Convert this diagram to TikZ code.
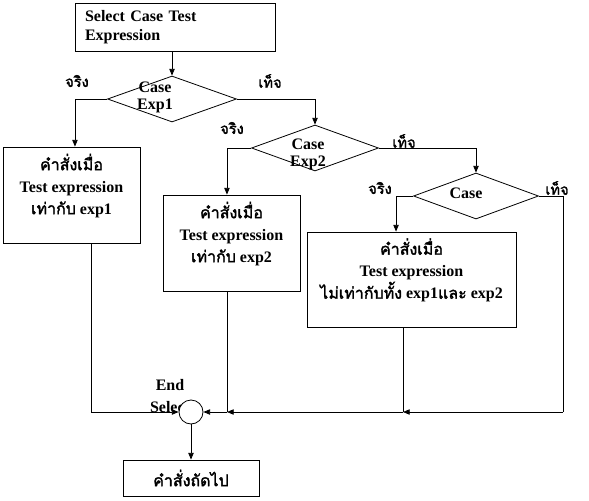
\documentclass[tikz,border=0pt]{standalone}
\usepackage{fontspec}
\setmainfont{Liberation Serif}
\newfontfamily\thaifont[Script=Thai,AutoFakeBold=2]{Loma}
\usepackage{tikz}
\usetikzlibrary{shapes.geometric,arrows.meta}
\newcommand{\thai}[1]{{\thaifont #1}}

\tikzset{
  stmt/.style={draw, rectangle, align=center, inner sep=0pt},
  test/.style={draw, diamond, inner sep=0pt},
  casetext/.style={align=center, inner sep=0pt, font=\fontsize{12}{12.75}\selectfont\bfseries},
  branch/.style={inner sep=0pt, font=\fontsize{11}{12}\selectfont\bfseries},
  flow/.style={->},
}

\begin{document}
\begin{tikzpicture}[x=0.75pt, y={(0pt,-0.75pt)}, line width=0.6pt,
    font=\fontsize{12}{16.5}\selectfont\bfseries,
    >={Triangle[length=5pt,width=4pt]}]
  \useasboundingbox (0,0) rectangle (589,500);

  % first statement and the three tests
  \node[stmt, minimum width=150pt, minimum height=36pt, text width=135pt,
        align=left, font=\fontsize{12}{14.25}\selectfont\bfseries]
        (start) at (175,27) {Select Case Test\\Expression};
  \node[test, minimum width=96.75pt, minimum height=34.5pt] (d1) at (172,99) {};
  \node[casetext] (d1t) at (155,97.5) {Case\\Exp1};
  \node[test, minimum width=95.25pt, minimum height=34.5pt] (d2) at (315,148) {};
  \node[casetext] (d2t) at (308,154) {Case\\Exp2};
  \node[test, minimum width=93.75pt, minimum height=34.5pt] (d3) at (476,196) {};
  \node[casetext] (d3t) at (466,193) {Case};

  % true / false labels
  \node[branch] (y1) at (77,81) {\thai{จริง}};
  \node[branch] (n1) at (270,81) {\thai{เท็จ}};
  \node[branch] (y2) at (232,128) {\thai{จริง}};
  \node[branch] (n2) at (404,141) {\thai{เท็จ}};
  \node[branch] (y3) at (380,188) {\thai{จริง}};
  \node[branch] (n3) at (557,188) {\thai{เท็จ}};

  % statement boxes
  \node[stmt, minimum width=102.75pt, minimum height=72pt] (b1) at (71.5,195)
       {\thai{คำสั่งเมื่อ}\\Test expression\\\thai{เท่ากับ} exp1\\~};
  \node[stmt, minimum width=102.75pt, minimum height=72pt] (b2) at (231.5,243)
       {\thai{คำสั่งเมื่อ}\\Test expression\\\thai{เท่ากับ} exp2\\~};
  \node[stmt, minimum width=156.75pt, minimum height=71.25pt] (b3) at (411.5,279.5)
       {\thai{คำสั่งเมื่อ}\\Test expression\\\thai{ไม่เท่ากับทั้ง} exp1\thai{และ} exp2\\~};
  \node[stmt, minimum width=102pt, minimum height=27pt] (next) at (191,478)
       {\thai{คำสั่งถัดไป}};

  % end select
  \node[casetext, font=\fontsize{12}{16}\selectfont\bfseries] (endt) at (170,396) {End\\Select};
  \node[draw, circle, fill=white, minimum size=18pt, inner sep=0pt] (endc) at (191,412) {};

  \coordinate (j1) at (91,412);
  \coordinate (j2) at (227,412);
  \coordinate (j3) at (403,412);
  \coordinate (j4) at (563,412);

  % connectors
  \draw[flow] (start.south -| d1.north) -- (d1.north);
  \draw[flow] (d1.west) -| ([xshift=2.6pt]b1.north);
  \draw[flow] (d1.east) -| (d2.north);
  \draw[flow] (d2.west) -| ([xshift=-3.4pt]b2.north);
  \draw[flow] (d2.east) -| (d3.north);
  \draw[flow] (d3.west) -| ([xshift=-11.6pt]b3.north);
  \draw (d3.east) -| (j4);

  \draw (b1.south -| j1) -- (j1);
  \draw (b2.south -| j2) -- (j2);
  \draw (b3.south -| j3) -- (j3);
  \draw[flow] (j1) -- (endc.west);
  \draw[flow] (j4) -- (j3);
  \draw[flow] (j3) -- (j2);
  \draw[flow] (j2) -- (endc.east);
  \draw[flow] (endc.south) -- (endc.south |- next.north);
\end{tikzpicture}
\end{document}
